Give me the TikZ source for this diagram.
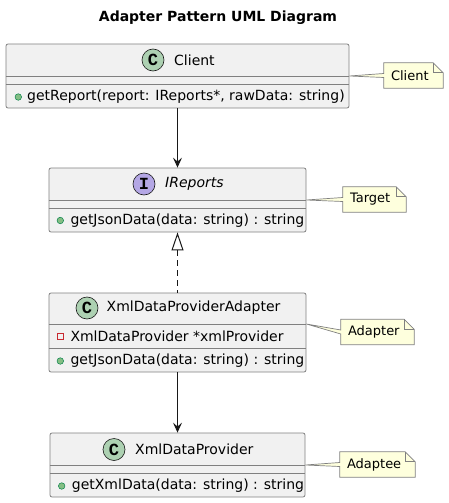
\documentclass[tikz,border=0pt]{standalone}
\usepackage{fontspec}
\setmainfont{DejaVu Sans}
\newfontfamily\badgefont{Liberation Mono}
\usetikzlibrary{arrows.meta,positioning,backgrounds}

\definecolor{boxfill}{HTML}{F1F1F1}
\definecolor{boxline}{HTML}{808080}
\definecolor{linedark}{HTML}{181818}
\definecolor{classbadge}{HTML}{ADD1B2}
\definecolor{ifacebadge}{HTML}{B4A7E5}
\definecolor{notefill}{HTML}{FEFFDD}
\definecolor{pubfill}{HTML}{84BE84}
\definecolor{publine}{HTML}{038048}
\definecolor{privline}{HTML}{C82930}

\begin{document}
\begin{tikzpicture}[x=1pt,y=-1pt,
  classbox/.style={draw=boxline,fill=boxfill,rounded corners=2pt,inner sep=0pt,line width=0.8pt},
  sepline/.style={draw=boxline,line width=0.8pt},
  badge/.style={circle,draw=linedark,line width=0.6pt,minimum size=22pt,inner sep=0pt,font=\badgefont\bfseries\fontsize{17pt}{17pt}\selectfont},
  ctitle/.style={anchor=west,inner sep=0pt,font=\fontsize{14pt}{16pt}\selectfont},
  member/.style={anchor=west,inner sep=0pt,font=\fontsize{14pt}{16pt}\selectfont},
  pubdot/.style={circle,fill=pubfill,draw=publine,line width=0.5pt,minimum size=6.5pt,inner sep=0pt},
  privsq/.style={rectangle,draw=privline,line width=0.7pt,minimum size=6pt,inner sep=0pt},
  note/.style={inner xsep=7pt,inner ysep=0pt,minimum height=25pt,align=left,font=\fontsize{13pt}{15pt}\selectfont},
  noteline/.style={draw=boxline,fill=notefill,line width=0.7pt},
  assoc/.style={draw=linedark,line width=1pt,-{Stealth[length=10pt,width=9pt,inset=4pt]}},
  realize/.style={draw=linedark,line width=1pt,dash pattern=on 6pt off 4pt,{Triangle[open,length=18pt,width=12pt]}-}
]
\useasboundingbox (0,0) rectangle (449,503);

% title
\node[font=\bfseries\fontsize{14pt}{16pt}\selectfont] (title) at (218,18) {Adapter Pattern UML Diagram};

% classes
\node[classbox,minimum width=343pt,minimum height=64pt] (client) at (177.5,76) {};
\node[classbox,minimum width=257pt,minimum height=64pt] (ireports) at (177.5,200) {};
\node[classbox,minimum width=257pt,minimum height=79pt] (adapter) at (177.5,332.5) {};
\node[classbox,minimum width=255pt,minimum height=64pt] (xmlprov) at (177.5,465) {};

% compartments
\coordinate (clientH) at (client.east |- 0,76);
\coordinate (ireportsH) at (ireports.east |- 0,200);
\coordinate (adapterH) at (adapter.east |- 0,324);
\coordinate (xmlprovH) at (xmlprov.east |- 0,465);
\draw[sepline] (client.west |- 0,76) -- (clientH);
\draw[sepline] (client.west |- 0,84) -- (client.east |- 0,84);
\draw[sepline] (ireports.west |- 0,200) -- (ireportsH);
\draw[sepline] (ireports.west |- 0,208) -- (ireports.east |- 0,208);
\draw[sepline] (adapter.west |- 0,324) -- (adapterH);
\draw[sepline] (adapter.west |- 0,348.5) -- (adapter.east |- 0,348.5);
\draw[sepline] (xmlprov.west |- 0,465) -- (xmlprovH);
\draw[sepline] (xmlprov.west |- 0,473) -- (xmlprov.east |- 0,473);

% headers
\node[badge,fill=classbadge] (clientB) at (153,60) {C};
\node[ctitle] (clientT) at (174,60) {Client};
\node[badge,fill=ifacebadge] (ireportsB) at (144,184) {I};
\node[ctitle,font=\itshape\fontsize{14pt}{16pt}\selectfont] (ireportsT) at (165,184) {IReports};
\node[badge,fill=classbadge] (adapterB) at (87,308) {C};
\node[ctitle] (adapterT) at (106.5,308) {XmlDataProviderAdapter};
\node[badge,fill=classbadge] (xmlprovB) at (114,449.5) {C};
\node[ctitle] (xmlprovT) at (135,449.5) {XmlDataProvider};

% members
\node[pubdot] (clientM1) at (18.3,97) {};
\node[member] at (27,97) {getReport(report: IReports*, rawData: string)};
\node[pubdot] (ireportsM1) at (60.3,220.5) {};
\node[member] at (70.3,220.5) {getJsonData(data: string) : string};
\node[privsq] (adapterA1) at (60.3,336.5) {};
\node[member] at (70.3,336) {XmlDataProvider *xmlProvider};
\node[pubdot] (adapterM1) at (60.3,361) {};
\node[member] at (70.3,361) {getJsonData(data: string) : string};
\node[pubdot] (xmlprovM1) at (61.7,486) {};
\node[member] at (71.7,486) {getXmlData(data: string) : string};

% links
\draw[assoc] (client.south) -- (ireports.north);
\draw[realize] (ireports.south) -- (adapter.north);
\draw[assoc] (adapter.south) -- (xmlprov.north);

% notes
\node[note,text width=45pt] (clientN) at (413.5,75.5) {Client};
\node[note,text width=49pt] (ireportsN) at (374.5,199.5) {Target};
\node[note,text width=59pt] (adapterN) at (377.5,332) {Adapter};
\node[note,text width=61pt] (xmlprovN) at (377.5,464.5) {Adaptee};
\begin{scope}[on background layer]
\foreach \n/\h in {clientN/clientH,ireportsN/ireportsH,adapterN/adapterH,xmlprovN/xmlprovH}{
  \filldraw[noteline] (\n.north west) -- ([xshift=-10pt]\n.north east) -- ([yshift=-10pt]\n.north east)
    -- (\n.south east) -- (\n.south west) -- ([yshift=-2pt]\n.west) -- (\h) -- ([yshift=2pt]\n.west) -- cycle;
  \draw[noteline,fill=none] ([xshift=-10pt]\n.north east) -- ([xshift=-10pt,yshift=-10pt]\n.north east) -- ([yshift=-10pt]\n.north east);
}
\end{scope}
\end{tikzpicture}
\end{document}
